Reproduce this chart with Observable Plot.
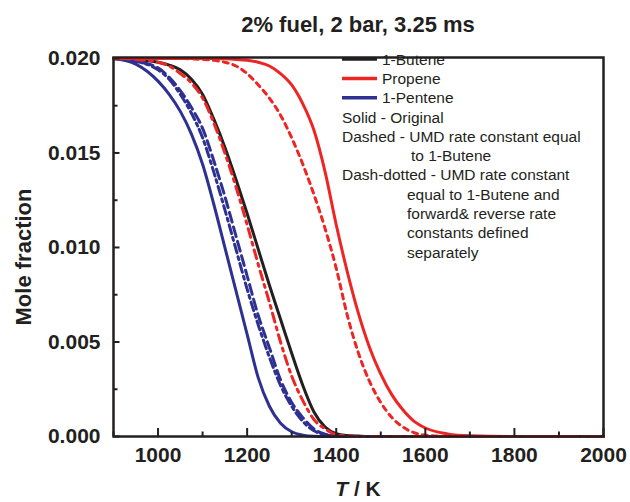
<!DOCTYPE html>
<html><head><meta charset="utf-8">
<script src="https://cdn.jsdelivr.net/npm/d3@7"></script>
<script src="https://cdn.jsdelivr.net/npm/@observablehq/plot@0.6"></script>
<style>
body{margin:0;background:#fff;font-family:"Liberation Sans",Arial,sans-serif;}
#wrap{width:630px;height:502px;position:relative;overflow:hidden;}
#title{height:40px;width:630px;box-sizing:border-box;padding-left:86px;text-align:center;font-weight:bold;font-size:22px;line-height:50px;color:#231f20;white-space:nowrap;}
</style></head><body>
<div id="wrap"><div id="title">2% fuel, 2 bar, 3.25 ms</div><div id="chart"></div></div>
<script>
// ---- data ----
const temps = [900, 950, 1000, 1025, 1050, 1075, 1100, 1125, 1150, 1175, 1200, 1225, 1250, 1275, 1300, 1325, 1350, 1375, 1400, 1425, 1450, 1475, 1500, 1525, 1550, 1575, 1600, 1650, 1700, 1800, 2000];
const butene = [0.0200,0.01995,0.0198,0.01965,0.0194,0.0189,0.0181,0.0168,0.0153,0.0136,0.0118,0.0099,0.0080,0.0062,0.0044,0.0027,0.0013,0.0005,0.00015,0.00005,0.00002,0,0,0,0,0,0,0,0,0,0];
const propene = [0.0200,0.0200,0.0200,0.0200,0.0200,0.0200,0.0200,0.01999,0.01998,0.01995,0.0199,0.0198,0.0196,0.0192,0.0186,0.0176,0.0162,0.0140,0.0112,0.0087,0.0065,0.0047,0.0033,0.0022,0.0014,0.0008,0.00045,0.00014,0.00004,0,0];
const propeneDashed = [0.0200,0.0200,0.0200,0.0200,0.0200,0.01998,0.01995,0.0199,0.0198,0.0196,0.0192,0.0186,0.0179,0.0170,0.0158,0.0144,0.0128,0.0110,0.0089,0.0064,0.0044,0.0029,0.0018,0.0010,0.0005,0.0002,0.00007,0.00001,0,0,0];
const propeneDashDot = [0.0200,0.01995,0.0198,0.0196,0.0192,0.0187,0.0179,0.0166,0.0150,0.0132,0.0112,0.0091,0.0071,0.0050,0.0032,0.0019,0.0009,0.0004,0.0001,0.00003,0,0,0,0,0,0,0,0,0,0,0];
const pentene = [0.0200,0.0197,0.0188,0.0181,0.0172,0.0160,0.0144,0.0123,0.0100,0.0077,0.0054,0.0031,0.0016,0.0007,0.00025,0.00007,0.00001,0,0,0,0,0,0,0,0,0,0,0,0,0,0];
const penteneDashed = [0.0200,0.01985,0.0195,0.0190,0.0183,0.0174,0.0163,0.0146,0.0127,0.0106,0.0085,0.0064,0.0047,0.0030,0.0018,0.0010,0.0004,0.00012,0.00003,0,0,0,0,0,0,0,0,0,0,0,0];
const penteneDashDot = [0.0200,0.01985,0.0194,0.0189,0.0181,0.0171,0.0158,0.0140,0.0120,0.0099,0.0078,0.0059,0.0042,0.0027,0.0016,0.0008,0.0003,0.0001,0.00002,0,0,0,0,0,0,0,0,0,0,0,0];

const xTicks = [1000, 1200, 1400, 1600, 1800, 2000];
const xMinor = [900, 1100, 1300, 1500, 1700, 1900];
const yTicks = [0, 0.005, 0.010, 0.015, 0.020];
const yMinor = [0.0025, 0.0075, 0.0125, 0.0175];

const legendNames = ["1-Butene", "Propene", "1-Pentene"];
const noteLines = ["Solid - Original", "Dashed - UMD rate constant equal", "to 1-Butene", "Dash-dotted - UMD rate constant", "equal to 1-Butene and", "forward& reverse rate", "constants defined", "separately"];

// ---- styling ----
const INK = "#231f20", RED = "#ed2524", BLUE = "#2e3192";
const W = 630, H = 462, mL = 113, mR = 27, mT = 17, mB = 66;
const fw = W - mL - mR, fh = H - mT - mB;

const series = [
  {values: butene, stroke: INK, dash: null},
  {values: pentene, stroke: BLUE, dash: null},
  {values: propene, stroke: RED, dash: null},
  {values: penteneDashed, stroke: BLUE, dash: "10,5"},
  {values: penteneDashDot, stroke: BLUE, dash: "9,4,3,4"},
  {values: propeneDashed, stroke: RED, dash: "5,5"},
  {values: propeneDashDot, stroke: RED, dash: "9,5,3,5"}
];

const lineMarks = series.map(s => Plot.line(temps.map((t, i) => ({T: t, v: s.values[i]})), {
  x: "T", y: "v", stroke: s.stroke, strokeWidth: 3, strokeDasharray: s.dash || undefined, curve: "monotone-x"
}));

const chart = Plot.plot({
  width: W, height: H, marginLeft: mL, marginRight: mR, marginTop: mT, marginBottom: mB,
  style: {fontFamily: "'Liberation Sans', Arial, sans-serif", color: INK, background: "white"},
  x: {domain: [900, 2000]},
  y: {domain: [0, 0.02005]},
  marks: [
    ...lineMarks,
    Plot.tickX(xTicks, {x: d => d, insetTop: fh - 8, stroke: INK, strokeWidth: 2}),
    Plot.tickX(xMinor, {x: d => d, insetTop: fh - 4.5, stroke: INK, strokeWidth: 2}),
    Plot.tickY(yTicks, {y: d => d, insetRight: fw - 6.5, stroke: INK, strokeWidth: 2}),
    Plot.tickY(yMinor, {y: d => d, insetRight: fw - 4.5, stroke: INK, strokeWidth: 2}),
    Plot.frame({stroke: INK, strokeWidth: 2.5}),
    Plot.axisX({ticks: xTicks, tickSize: 0, tickPadding: 11, tickFormat: d3.format("d"), fontSize: 21, fontWeight: "bold", fill: INK, label: null}),
    Plot.axisY({ticks: yTicks, tickSize: 0, tickPadding: 13, tickFormat: d3.format(".3f"), fontSize: 21, fontWeight: "bold", fill: INK, label: null})
  ]
});
document.getElementById("chart").appendChild(chart);

const svg = d3.select(chart);
// axis titles
svg.append("text").attr("x", (mL + W - mR) / 2).attr("y", 448)
  .attr("text-anchor", "middle").attr("dominant-baseline", "central")
  .attr("font-size", 21).attr("font-weight", "bold").attr("fill", INK)
  .call(t => { t.append("tspan").attr("font-style", "italic").text("T"); t.append("tspan").text(" / K"); });
svg.append("text").attr("transform", "translate(23,217) rotate(-90)")
  .attr("text-anchor", "middle").attr("dominant-baseline", "central")
  .attr("font-size", 22).attr("font-weight", "bold").attr("fill", INK).text("Mole fraction");

// legend
const lg = svg.append("g").attr("font-size", 15.5).attr("fill", INK).attr("text-anchor", "start");
const legColors = [INK, RED, BLUE];
legendNames.forEach((n, i) => {
  const y = 19 + i * 19.4;
  lg.append("line").attr("x1", 342).attr("x2", 377).attr("y1", y).attr("y2", y).attr("stroke", legColors[i]).attr("stroke-width", 3.5);
  lg.append("text").attr("x", 382).attr("y", y).attr("dominant-baseline", "central").text(n);
});
const noteX = [342, 342, 411, 342, 407, 407, 407, 407];
noteLines.forEach((n, i) => {
  lg.append("text").attr("x", noteX[i]).attr("y", 77 + i * 19.3).attr("dominant-baseline", "central").text(n);
});
</script>
</body></html>
